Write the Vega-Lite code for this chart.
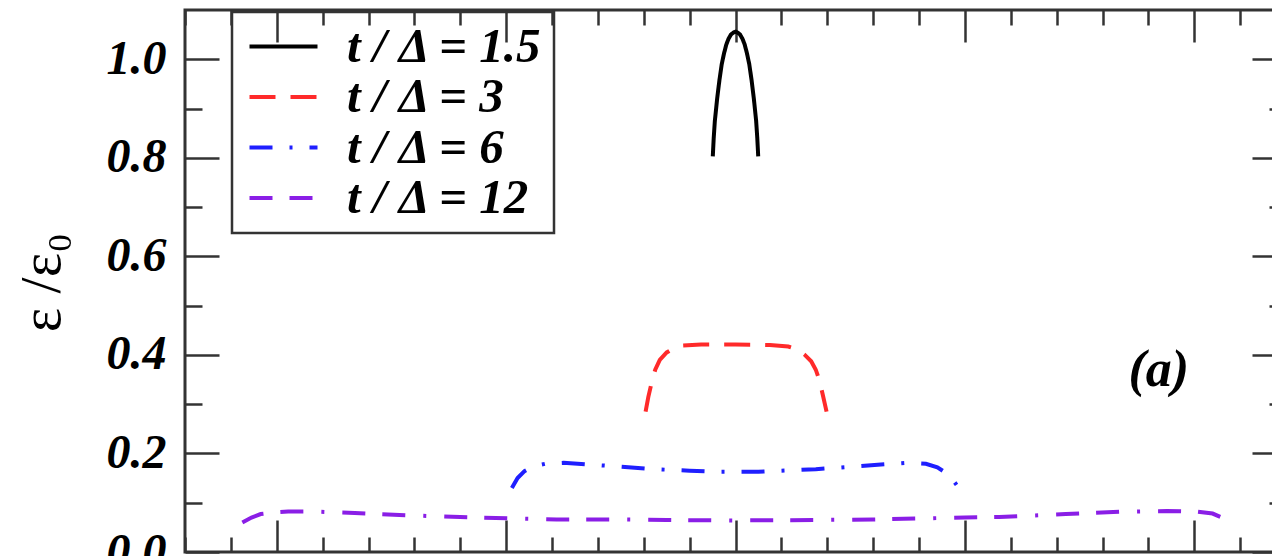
{
  "$schema": "https://vega.github.io/schema/vega-lite/v6.json",
  "autosize": {"type": "none"},
  "padding": {"left": 185, "top": 10, "right": -14, "bottom": 4},
  "width": 1101,
  "height": 542,
  "background": "white",
  "config": {
    "view": {"stroke": "#333333", "strokeWidth": 3},
    "axis": {"domain": false, "grid": false, "tickColor": "#333333", "tickWidth": 2.5, "labelOverlap": false, "labelBound": false, "labelFlush": false},
    "legend": {
      "orient": "none", "legendX": 47, "legendY": 2,
      "strokeColor": "#333333", "strokeWidth": 2.5, "padding": 10,
      "symbolType": "M-2,0H2", "symbolSize": 1156, "symbolStrokeWidth": 4,
      "symbolOffset": 17, "labelOffset": 39,
      "labelFont": "Liberation Serif", "labelFontSize": 49, "labelFontWeight": "bold", "labelFontStyle": "italic", "labelColor": "#000000",
      "rowPadding": 0.5, "labelLimit": 400
    }
  },
  "datasets": {
    "curves": [
      {"s": "t / Δ = 1.5", "x": -0.99, "y": 0.803},
      {"s": "t / Δ = 1.5", "x": -0.95, "y": 0.84},
      {"s": "t / Δ = 1.5", "x": -0.9, "y": 0.875},
      {"s": "t / Δ = 1.5", "x": -0.8, "y": 0.92},
      {"s": "t / Δ = 1.5", "x": -0.7, "y": 0.958},
      {"s": "t / Δ = 1.5", "x": -0.6, "y": 0.99},
      {"s": "t / Δ = 1.5", "x": -0.5, "y": 1.012},
      {"s": "t / Δ = 1.5", "x": -0.4, "y": 1.03},
      {"s": "t / Δ = 1.5", "x": -0.3, "y": 1.042},
      {"s": "t / Δ = 1.5", "x": -0.2, "y": 1.05},
      {"s": "t / Δ = 1.5", "x": -0.1, "y": 1.054},
      {"s": "t / Δ = 1.5", "x": 0, "y": 1.056},
      {"s": "t / Δ = 1.5", "x": 0.1, "y": 1.054},
      {"s": "t / Δ = 1.5", "x": 0.2, "y": 1.05},
      {"s": "t / Δ = 1.5", "x": 0.3, "y": 1.042},
      {"s": "t / Δ = 1.5", "x": 0.4, "y": 1.03},
      {"s": "t / Δ = 1.5", "x": 0.5, "y": 1.012},
      {"s": "t / Δ = 1.5", "x": 0.6, "y": 0.99},
      {"s": "t / Δ = 1.5", "x": 0.7, "y": 0.958},
      {"s": "t / Δ = 1.5", "x": 0.8, "y": 0.92},
      {"s": "t / Δ = 1.5", "x": 0.9, "y": 0.875},
      {"s": "t / Δ = 1.5", "x": 0.95, "y": 0.84},
      {"s": "t / Δ = 1.5", "x": 0.99, "y": 0.803},

      {"s": "t / Δ = 3", "x": -3.92, "y": 0.285},
      {"s": "t / Δ = 3", "x": -3.8, "y": 0.315},
      {"s": "t / Δ = 3", "x": -3.65, "y": 0.345},
      {"s": "t / Δ = 3", "x": -3.5, "y": 0.37},
      {"s": "t / Δ = 3", "x": -3.3, "y": 0.39},
      {"s": "t / Δ = 3", "x": -3.0, "y": 0.405},
      {"s": "t / Δ = 3", "x": -2.7, "y": 0.413},
      {"s": "t / Δ = 3", "x": -2.3, "y": 0.419},
      {"s": "t / Δ = 3", "x": -1.5, "y": 0.421},
      {"s": "t / Δ = 3", "x": 0, "y": 0.421},
      {"s": "t / Δ = 3", "x": 1.5, "y": 0.42},
      {"s": "t / Δ = 3", "x": 2.3, "y": 0.417},
      {"s": "t / Δ = 3", "x": 2.7, "y": 0.411},
      {"s": "t / Δ = 3", "x": 3.0, "y": 0.401},
      {"s": "t / Δ = 3", "x": 3.3, "y": 0.387},
      {"s": "t / Δ = 3", "x": 3.5, "y": 0.37},
      {"s": "t / Δ = 3", "x": 3.65, "y": 0.35},
      {"s": "t / Δ = 3", "x": 3.8, "y": 0.32},
      {"s": "t / Δ = 3", "x": 3.97, "y": 0.285},

      {"s": "t / Δ = 6", "x": -9.75, "y": 0.13},
      {"s": "t / Δ = 6", "x": -9.5, "y": 0.15},
      {"s": "t / Δ = 6", "x": -9.2, "y": 0.164},
      {"s": "t / Δ = 6", "x": -8.8, "y": 0.174},
      {"s": "t / Δ = 6", "x": -8.3, "y": 0.179},
      {"s": "t / Δ = 6", "x": -7.5, "y": 0.181},
      {"s": "t / Δ = 6", "x": -6.5, "y": 0.178},
      {"s": "t / Δ = 6", "x": -5, "y": 0.173},
      {"s": "t / Δ = 6", "x": -3.5, "y": 0.168},
      {"s": "t / Δ = 6", "x": -2, "y": 0.165},
      {"s": "t / Δ = 6", "x": -1, "y": 0.163},
      {"s": "t / Δ = 6", "x": 0, "y": 0.163},
      {"s": "t / Δ = 6", "x": 1, "y": 0.163},
      {"s": "t / Δ = 6", "x": 2, "y": 0.165},
      {"s": "t / Δ = 6", "x": 3.5, "y": 0.168},
      {"s": "t / Δ = 6", "x": 5, "y": 0.173},
      {"s": "t / Δ = 6", "x": 6.5, "y": 0.178},
      {"s": "t / Δ = 6", "x": 7.5, "y": 0.181},
      {"s": "t / Δ = 6", "x": 8.3, "y": 0.179},
      {"s": "t / Δ = 6", "x": 8.8, "y": 0.172},
      {"s": "t / Δ = 6", "x": 9.2, "y": 0.16},
      {"s": "t / Δ = 6", "x": 9.5, "y": 0.145},
      {"s": "t / Δ = 6", "x": 9.78, "y": 0.127},

      {"s": "t / Δ = 12", "x": -21.5, "y": 0.06},
      {"s": "t / Δ = 12", "x": -21.1, "y": 0.07},
      {"s": "t / Δ = 12", "x": -20.7, "y": 0.077},
      {"s": "t / Δ = 12", "x": -20.2, "y": 0.08},
      {"s": "t / Δ = 12", "x": -19.5, "y": 0.082},
      {"s": "t / Δ = 12", "x": -18.3, "y": 0.082},
      {"s": "t / Δ = 12", "x": -16.6, "y": 0.079},
      {"s": "t / Δ = 12", "x": -14, "y": 0.074},
      {"s": "t / Δ = 12", "x": -12, "y": 0.071},
      {"s": "t / Δ = 12", "x": -9.7, "y": 0.068},
      {"s": "t / Δ = 12", "x": -7.8, "y": 0.066},
      {"s": "t / Δ = 12", "x": -5, "y": 0.066},
      {"s": "t / Δ = 12", "x": -3, "y": 0.065},
      {"s": "t / Δ = 12", "x": 0, "y": 0.064},
      {"s": "t / Δ = 12", "x": 3.5, "y": 0.065},
      {"s": "t / Δ = 12", "x": 6, "y": 0.066},
      {"s": "t / Δ = 12", "x": 8, "y": 0.068},
      {"s": "t / Δ = 12", "x": 10, "y": 0.07},
      {"s": "t / Δ = 12", "x": 11.5, "y": 0.071},
      {"s": "t / Δ = 12", "x": 12.5, "y": 0.073},
      {"s": "t / Δ = 12", "x": 14.4, "y": 0.077},
      {"s": "t / Δ = 12", "x": 17, "y": 0.082},
      {"s": "t / Δ = 12", "x": 18.8, "y": 0.083},
      {"s": "t / Δ = 12", "x": 20.1, "y": 0.082},
      {"s": "t / Δ = 12", "x": 20.8, "y": 0.078},
      {"s": "t / Δ = 12", "x": 21.2, "y": 0.07},
      {"s": "t / Δ = 12", "x": 21.55, "y": 0.062}
    ],
    "labels": [
      {"x": 18.45, "y": 0.336, "text": "(a)"}
    ]
  },
  "resolve": {"axis": {"x": "independent", "y": "independent"}},
  "layer": [
    {
      "data": {"name": "curves"},
      "mark": {"type": "line", "strokeWidth": 4, "clip": true},
      "encoding": {
        "x": {
          "field": "x", "type": "quantitative",
          "scale": {"domain": [-24, 24], "nice": false, "zero": false},
          "axis": {
            "orient": "bottom", "title": null, "labels": false,
            "values": [-24,-22,-20,-18,-16,-14,-12,-10,-8,-6,-4,-2,0,2,4,6,8,10,12,14,16,18,20,22,24],
            "tickSize": {"condition": {"test": "round(datum.value) % 10 === 0", "value": -32}, "value": -15}
          }
        },
        "y": {
          "field": "y", "type": "quantitative",
          "scale": {"domain": [0, 1.1], "nice": false, "zero": false},
          "axis": {
            "orient": "left",
            "values": [0,0.1,0.2,0.3,0.4,0.5,0.6,0.7,0.8,0.9,1.0],
            "labelExpr": "round(datum.value*10) % 2 === 0 ? format(datum.value, '.1f') : ''",
            "tickSize": {"condition": {"test": "round(datum.value*10) % 2 === 0", "value": -34}, "value": -17},
            "labelFont": "Liberation Serif", "labelFontSize": 48, "labelFontWeight": "bold", "labelFontStyle": "italic", "labelColor": "#000000",
            "labelPadding": 53,
            "title": "ε /ε₀",
            "titleFont": "Liberation Serif", "titleFontSize": 58, "titleFontWeight": "normal", "titleColor": "#000000",
            "titleAngle": -90, "titleX": -143, "titleY": 272, "titleAlign": "center", "titleBaseline": "middle"
          }
        },
        "color": {
          "field": "s", "type": "nominal", "title": null,
          "scale": {"domain": ["t / Δ = 1.5", "t / Δ = 3", "t / Δ = 6", "t / Δ = 12"], "range": ["#000000", "#ff2a2a", "#1f1fff", "#8a1ee6"]}
        },
        "strokeDash": {
          "field": "s", "type": "nominal", "title": null,
          "scale": {"domain": ["t / Δ = 1.5", "t / Δ = 3", "t / Δ = 6", "t / Δ = 12"], "range": [[1, 0], [26, 15], [23, 17, 3, 17], [23, 17, 23, 18, 3, 18]]}
        }
      }
    },
    {
      "data": {"name": "labels"},
      "mark": {"type": "text", "font": "Liberation Serif", "fontSize": 52, "fontWeight": "bold", "fontStyle": "italic", "align": "center", "baseline": "alphabetic", "color": "#000000"},
      "encoding": {
        "x": {
          "field": "x", "type": "quantitative",
          "scale": {"domain": [-24, 24], "nice": false, "zero": false},
          "axis": {
            "orient": "top", "title": null, "labels": false,
            "values": [-24,-22,-20,-18,-16,-14,-12,-10,-8,-6,-4,-2,0,2,4,6,8,10,12,14,16,18,20,22,24],
            "tickSize": {"condition": {"test": "round(datum.value) % 10 === 0", "value": -32}, "value": -15}
          }
        },
        "y": {
          "field": "y", "type": "quantitative",
          "scale": {"domain": [0, 1.1], "nice": false, "zero": false},
          "axis": {
            "orient": "right", "title": null, "labels": false,
            "values": [0,0.1,0.2,0.3,0.4,0.5,0.6,0.7,0.8,0.9,1.0],
            "tickSize": {"condition": {"test": "round(datum.value*10) % 2 === 0", "value": -34}, "value": -17}
          }
        },
        "text": {"field": "text", "type": "nominal"}
      }
    }
  ]
}
